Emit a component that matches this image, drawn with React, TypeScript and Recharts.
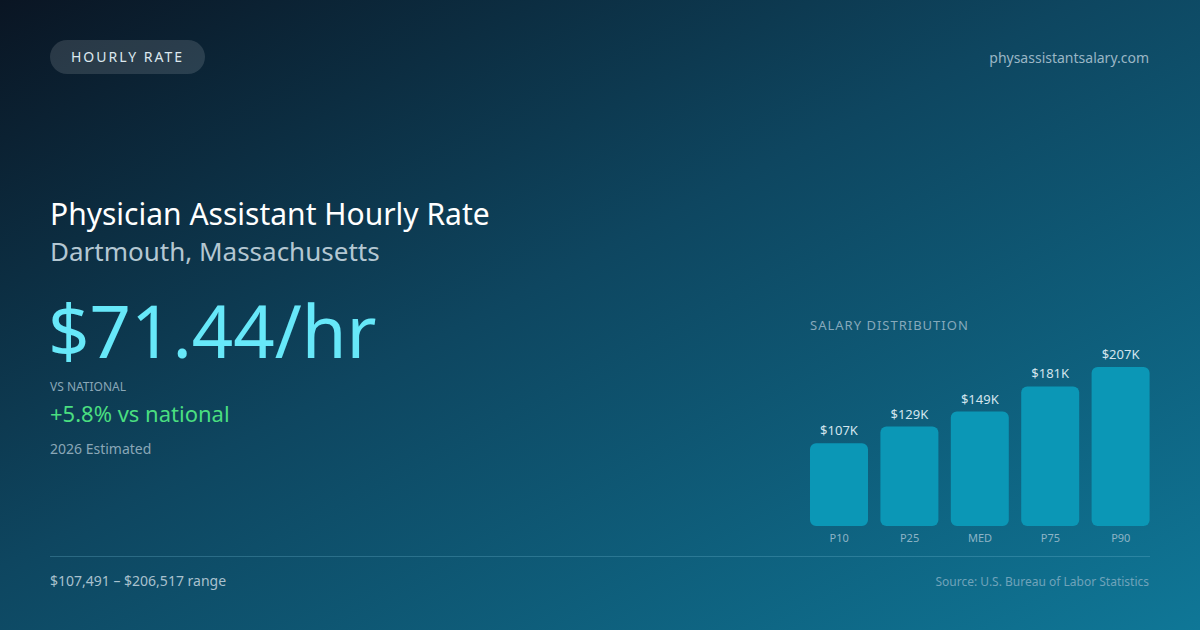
import { BarChart, Bar, XAxis, YAxis, LabelList, Cell } from "recharts"

document.body.style.margin = "0"

const percentiles = ["P10", "P25", "MED", "P75", "P90"]
const salaries = [107491, 129200, 148600, 181300, 206517]

const data = percentiles.map((p, i) => ({ name: p, salary: salaries[i] }))

const FONT = "'Noto Sans', 'Open Sans', sans-serif"
const tickStyle = { fontSize: 11, fill: "#8db4c6", fontFamily: FONT }
const labelStyle = { fontSize: 13, fill: "#d3e5ee", fontFamily: FONT }

function formatK(v: number | string): string {
  return "$" + Math.round(Number(v) / 1000) + "K"
}

export default function App() {
  return (
    <div
      style={{
        position: "relative",
        width: 1200,
        height: 630,
        overflow: "hidden",
        fontFamily: FONT,
        background: "linear-gradient(to bottom right, #0a1523 0%, #0e4660 45%, #0f7797 100%)",
      }}
    >
      <div
        style={{
          position: "absolute",
          left: 50,
          top: 40,
          width: 155,
          height: 34,
          borderRadius: 17,
          background: "rgba(255,255,255,0.13)",
          color: "#dce8ef",
          fontSize: 14,
          letterSpacing: 2,
          lineHeight: "34px",
          textAlign: "center",
        }}
      >
        HOURLY RATE
      </div>
      <div style={{ position: "absolute", right: 51, top: 48, fontSize: 14, color: "#9ab6c5" }}>
        physassistantsalary.com
      </div>

      <div style={{ position: "absolute", left: 50, top: 194, fontSize: 30, color: "#ffffff", lineHeight: "40px" }}>
        Physician Assistant Hourly Rate
      </div>
      <div style={{ position: "absolute", left: 50, top: 233, fontSize: 26, color: "#b4c7d2", lineHeight: "36px" }}>
        Dartmouth, Massachusetts
      </div>
      <div style={{ position: "absolute", left: 48, top: 283, fontSize: 72.5, color: "#67e8f9", lineHeight: "94px" }}>
        $71.44/hr
      </div>
      <div style={{ position: "absolute", left: 50, top: 379, fontSize: 12, color: "#8aa7b7", lineHeight: "16px" }}>
        VS NATIONAL
      </div>
      <div style={{ position: "absolute", left: 50, top: 398, fontSize: 22, color: "#4ade80", lineHeight: "30px" }}>
        +5.8% vs national
      </div>
      <div style={{ position: "absolute", left: 50, top: 439, fontSize: 14, color: "#8aa7b7", lineHeight: "20px" }}>
        2026 Estimated
      </div>

      <div
        style={{
          position: "absolute",
          left: 810,
          top: 317,
          fontSize: 13,
          letterSpacing: 1,
          color: "#86a9bb",
          lineHeight: "16px",
        }}
      >
        SALARY DISTRIBUTION
      </div>

      <div style={{ position: "absolute", left: 804, top: 330 }}>
        <BarChart width={352} height={226} data={data} margin={{ top: 37, right: 0, bottom: 0, left: 0 }}>
          <XAxis dataKey="name" axisLine={false} tickLine={false} tick={tickStyle} height={30} interval={0} />
          <YAxis hide domain={[0, 206517]} />
          <Bar dataKey="salary" barSize={58} radius={[6, 6, 6, 6]} fill="#0b97b6" isAnimationActive={false}>
            {data.map((d) => (
              <Cell key={d.name} fill="#0b97b6" />
            ))}
            <LabelList dataKey="salary" position="top" offset={8} formatter={formatK} style={labelStyle} />
          </Bar>
        </BarChart>
      </div>

      <div
        style={{
          position: "absolute",
          left: 50,
          top: 556,
          width: 1100,
          height: 1,
          background: "rgba(120,190,215,0.28)",
        }}
      />
      <div style={{ position: "absolute", left: 50, top: 571, fontSize: 14, color: "#a9c1ce", lineHeight: "20px" }}>
        $107,491 – $206,517 range
      </div>
      <div style={{ position: "absolute", right: 51, top: 573, fontSize: 12, color: "#6fa3ba", lineHeight: "18px" }}>
        Source: U.S. Bureau of Labor Statistics
      </div>
    </div>
  )
}
